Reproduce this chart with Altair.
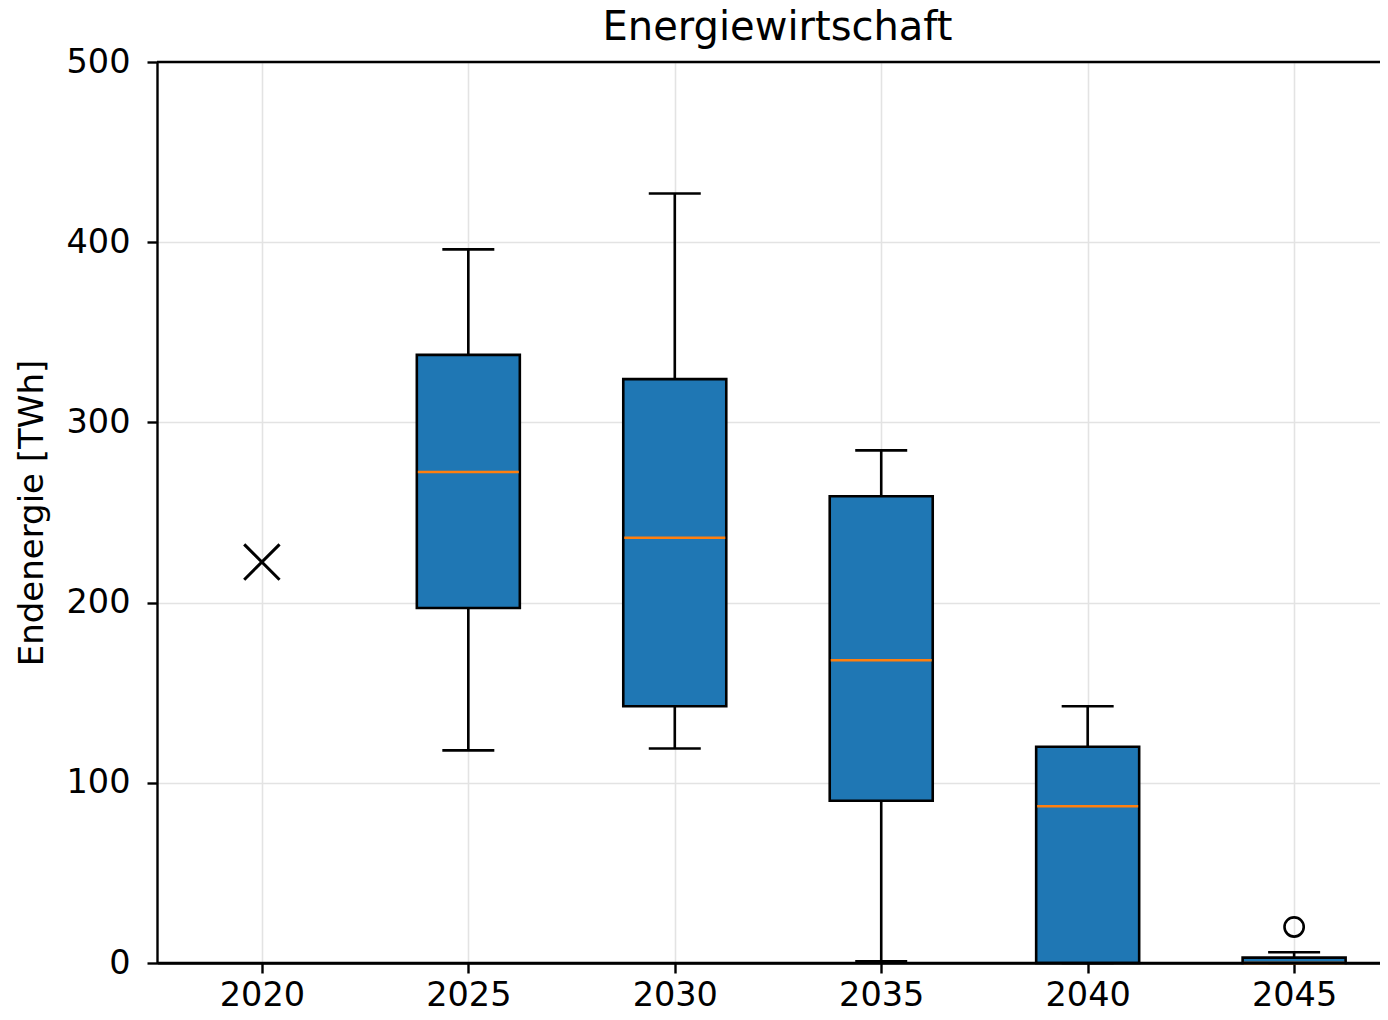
import altair as alt
import pandas as pd

# Data
years = [2025, 2030, 2035, 2040, 2045]
whisker_low = [118, 119, 1, 0, 0]
q1 = [197, 142.5, 90, 0, 0]
median = [272.5, 236, 168, 87, 0]
q3 = [337.5, 324, 259, 120, 3]
whisker_high = [396, 427, 284.5, 142.5, 6]

outlier_years = [2045]
outlier_values = [20]

ref_years = [2020]
ref_values = [222.5]

tick_years = [2020, 2025, 2030, 2035, 2040, 2045]
y_ticks = [0, 100, 200, 300, 400, 500]
spine_values = [0, 500]

box = pd.DataFrame({
    "year": years, "low": whisker_low, "q1": q1, "med": median,
    "q3": q3, "high": whisker_high,
})
outl = pd.DataFrame({"year": outlier_years, "value": outlier_values})
ref = pd.DataFrame({"year": ref_years, "value": ref_values})
spines = pd.DataFrame({"v": spine_values})

FONT = "DejaVu Sans"
xscale = alt.Scale(domain=[2017.46, 2047.08], nice=False, zero=False, padding=0)
yscale = alt.Scale(domain=[0, 500], nice=False, padding=0)

xenc = alt.X("year:Q", scale=xscale, axis=alt.Axis(
    values=tick_years, format="d", title=None, labelFontSize=33.5, labelFont=FONT,
    labelColor="black", tickSize=10, tickWidth=2.4, tickColor="black",
    domainColor="black", domainWidth=2.4, labelPadding=6,
    grid=True, gridColor="#e3e3e3", gridWidth=1.6,
))
yenc_axis = alt.Axis(
    values=y_ticks, title="Endenergie [TWh]", titleFontSize=34, titleFont=FONT,
    titleFontWeight="normal", titleColor="black", titlePadding=17,
    labelFontSize=33.5, labelFont=FONT, labelColor="black", tickSize=10,
    tickWidth=2.4, tickColor="black", domainColor="black", domainWidth=2.4,
    labelPadding=17, grid=True, gridColor="#e3e3e3", gridWidth=1.6,
)

base = alt.Chart(box)

whisk_lo = base.mark_rule(color="black", strokeWidth=2.6).encode(
    x=xenc, y=alt.Y("low:Q", scale=yscale, axis=yenc_axis), y2="q1:Q")
whisk_hi = base.mark_rule(color="black", strokeWidth=2.6).encode(
    x="year:Q", y="q3:Q", y2="high:Q")
cap_lo = base.mark_tick(color="black", orient="horizontal", size=52, thickness=2.6,
                        opacity=1).encode(x="year:Q", y="low:Q")
cap_hi = base.mark_tick(color="black", orient="horizontal", size=52, thickness=2.6,
                        opacity=1).encode(x="year:Q", y="high:Q")
boxes = base.mark_bar(size=103, color="#1f77b4", stroke="black", strokeWidth=2.6,
                      opacity=1).encode(x="year:Q", y="q1:Q", y2="q3:Q")
meds = base.mark_tick(color="#ff7f0e", orient="horizontal", size=101, thickness=2.6,
                      opacity=1).encode(x="year:Q", y="med:Q")

outliers = alt.Chart(outl).mark_point(shape="circle", filled=False, color="black",
                                      size=370, strokeWidth=2.6, opacity=1).encode(
    x="year:Q", y="value:Q")
refpt = alt.Chart(ref).mark_point(shape="M-1,-1L1,1M-1,1L1,-1", filled=False, color="black",
                                  size=1250, strokeWidth=3, opacity=1).encode(
    x="year:Q", y="value:Q")

spine_rules = alt.Chart(spines).mark_rule(color="black", strokeWidth=2.4).encode(
    y="v:Q")

chart = alt.layer(
    whisk_lo, whisk_hi, cap_lo, cap_hi, boxes, meds, outliers, refpt, spine_rules
).properties(
    width=1223, height=901,
    title=alt.TitleParams("Energiewirtschaft", fontSize=40, font=FONT, fontWeight="normal",
                          color="black", offset=-3, dx=9, anchor="middle"),
    autosize=alt.AutoSizeParams(type="none"),
    padding={"left": 149, "top": 54, "right": 0, "bottom": 45},
).configure_view(stroke=None).configure(background="white")

chart.save("out.html", embed_options={"renderer": "svg", "actions": False})
